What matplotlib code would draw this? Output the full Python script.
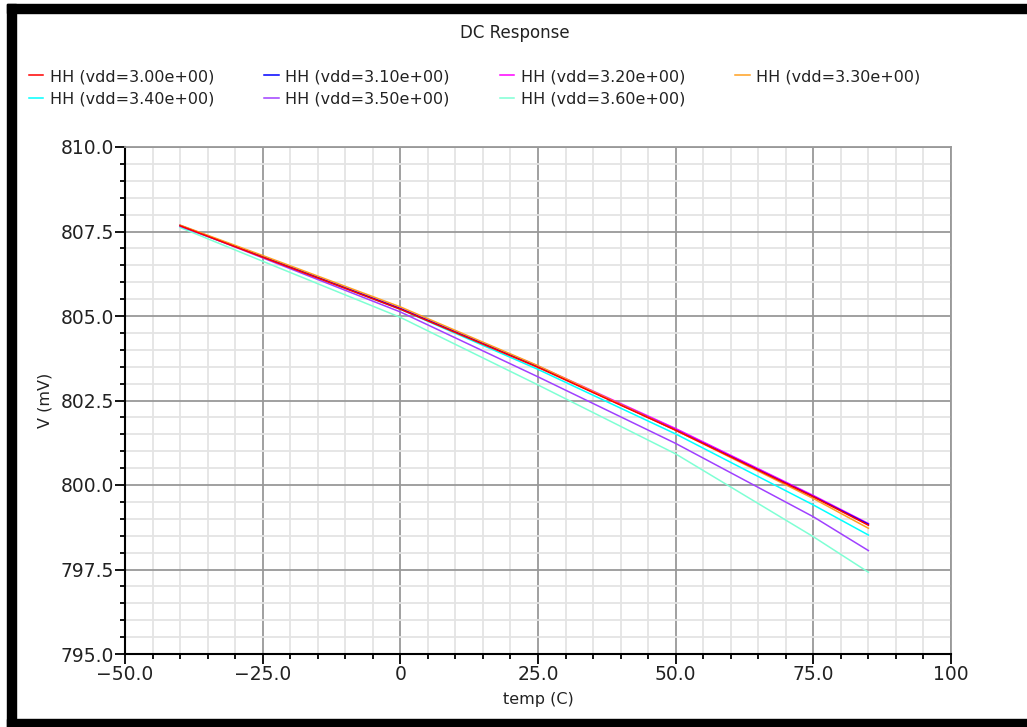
import matplotlib
matplotlib.use("Agg")
import matplotlib.pyplot as plt
from matplotlib.patches import Rectangle
from matplotlib.ticker import MultipleLocator, FuncFormatter

# Temperature sweep points (C) and DC output voltage (mV) per supply setting
temp = [-40, -25, 0, 25, 50, 75, 85]
v_300 = [807.67, 806.74, 805.20, 803.48, 801.62, 799.65, 798.81]
v_310 = [807.68, 806.76, 805.22, 803.50, 801.63, 799.66, 798.84]
v_320 = [807.66, 806.75, 805.23, 803.52, 801.67, 799.69, 798.86]
v_330 = [807.69, 806.79, 805.27, 803.53, 801.62, 799.60, 798.72]
v_340 = [807.65, 806.76, 805.20, 803.42, 801.51, 799.41, 798.52]
v_350 = [807.68, 806.72, 805.12, 803.20, 801.23, 799.06, 798.06]
v_360 = [807.62, 806.62, 804.96, 802.96, 800.92, 798.47, 797.42]

labels = ["HH (vdd=3.00e+00)", "HH (vdd=3.10e+00)", "HH (vdd=3.20e+00)",
          "HH (vdd=3.30e+00)", "HH (vdd=3.40e+00)", "HH (vdd=3.50e+00)",
          "HH (vdd=3.60e+00)"]
series = [v_300, v_310, v_320, v_330, v_340, v_350, v_360]
colors = ["#ff0000", "#0000ff", "#ff00ff", "#ffa020", "#00ffff", "#a040ff", "#7fffd4"]
zorders = [9, 7, 6, 8, 5, 4, 3]

fig = plt.figure(figsize=(10.27, 7.27), dpi=100)
W, H = 1027, 727

# frame around the window
fig.patches.append(Rectangle((7 / W, 0), 9 / W, 1 - 4 / H, transform=fig.transFigure,
                             color="black", zorder=0))
fig.patches.append(Rectangle((7 / W, 1 - 13 / H), 1 - 7 / W, 9 / H, transform=fig.transFigure,
                             color="black", zorder=0))
fig.patches.append(Rectangle((7 / W, 0), 1 - 7 / W, 8 / H, transform=fig.transFigure,
                             color="black", zorder=0))

ax = fig.add_axes([125 / W, 1 - 654 / H, (951 - 125) / W, (654 - 147) / H])

handles = []
for y, lab, c, z in zip(series, labels, colors, zorders):
    h, = ax.plot(temp, y, color=c, lw=1.1, label=lab, zorder=z)
    handles.append(h)

ax.set_xlim(-50, 100)
ax.set_ylim(795, 810)
ax.xaxis.set_major_locator(MultipleLocator(25))
ax.xaxis.set_minor_locator(MultipleLocator(5))
ax.yaxis.set_major_locator(MultipleLocator(2.5))
ax.yaxis.set_minor_locator(MultipleLocator(0.5))


def fmt_x(v, pos):
    if abs(v) < 1e-9:
        return "0"
    if abs(v - 100) < 1e-9:
        return "100"
    return f"{v:.1f}".replace("-", "\u2212")


ax.xaxis.set_major_formatter(FuncFormatter(fmt_x))
ax.yaxis.set_major_formatter(FuncFormatter(lambda v, p: f"{v:.1f}"))

ax.grid(which="minor", color="#e4e4e4", lw=1.3, zorder=0)
ax.grid(which="major", color="#999999", lw=1.3, zorder=1)
ax.set_axisbelow(True)

for side in ("top", "right"):
    ax.spines[side].set_color("#999999")
    ax.spines[side].set_linewidth(1.3)
for side in ("left", "bottom"):
    ax.spines[side].set_color("black")
    ax.spines[side].set_linewidth(1.5)

ax.tick_params(which="major", direction="out", length=7, width=1.3, color="black",
               labelsize=13.5, labelcolor="#222222", pad=1)
ax.tick_params(which="minor", direction="out", length=3.5, width=1.3, color="black")
ax.tick_params(top=False, right=False, which="both")

ax.set_xlabel("temp (C)", fontsize=11.5, color="#222222", labelpad=6)
ax.set_ylabel("V (mV)", fontsize=11.5, color="#222222", labelpad=6)

fig.text(515 / W, 1 - 33 / H, "DC Response", ha="center", va="center",
         fontsize=12, color="#222222")

# legend filled row by row: reorder for matplotlib's column-major layout
order = [0, 4, 1, 5, 2, 6, 3]
fig.legend(handles=[handles[i] for i in order], labels=[labels[i] for i in order],
           loc="upper left", ncol=4,
           bbox_to_anchor=(29 / W, 1 - 69 / H), frameon=False, fontsize=11.5,
           handlelength=0.9, handletextpad=0.4, columnspacing=3.15,
           labelspacing=0.48, borderaxespad=0, borderpad=0, labelcolor="#222222")

fig.savefig("out.png", dpi=100, facecolor="white")
